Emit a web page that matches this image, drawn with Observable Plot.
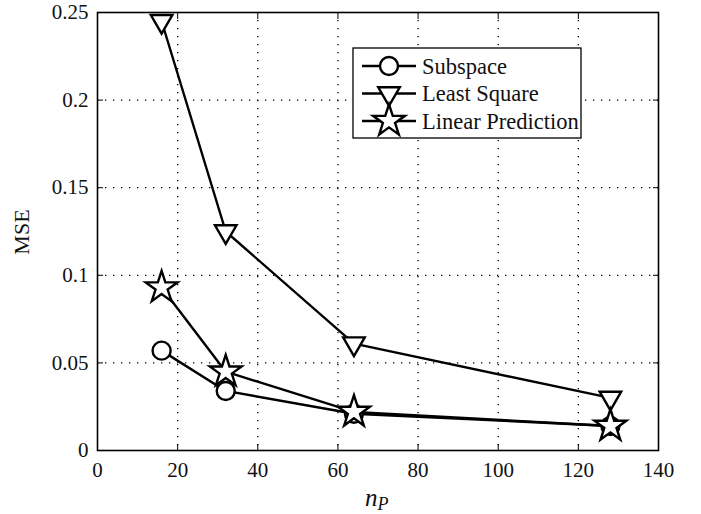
<!DOCTYPE html>
<html>
<head>
<meta charset="utf-8">
<script src="https://cdn.jsdelivr.net/npm/d3@7"></script>
<script src="https://cdn.jsdelivr.net/npm/@observablehq/plot@0.6"></script>
<style>
  html, body { margin: 0; padding: 0; background: #fff; }
  #chart svg { display: block; }
</style>
</head>
<body>
<div id="chart"></div>
<script>
// ---- data ----
const nP = [16, 32, 64, 128];
const seriesNames = ["Subspace", "Least Square", "Linear Prediction"];
const subspace = [0.057, 0.034, 0.021, 0.014];
const leastSquare = [0.245, 0.125, 0.061, 0.030];
const linearPrediction = [0.093, 0.045, 0.022, 0.014];
const xTicks = [0, 20, 40, 60, 80, 100, 120, 140];
const yTicks = [0, 0.05, 0.1, 0.15, 0.2, 0.25];
const yTickLabels = ["0", "0.05", "0.1", "0.15", "0.2", "0.25"];

const toRows = (vals, name) => nP.map((x, i) => ({x, y: vals[i], series: name}));
const sRows = toRows(subspace, seriesNames[0]);
const lsRows = toRows(leastSquare, seriesNames[1]);
const lpRows = toRows(linearPrediction, seriesNames[2]);
const allRows = [...sRows, ...lsRows, ...lpRows];

const FONT = "'Liberation Serif', 'Times New Roman', serif";
const ink = "#111";

const chart = Plot.plot({
  width: 701,
  height: 514,
  marginLeft: 97,
  marginRight: 43,
  marginTop: 12,
  marginBottom: 64,
  style: {fontFamily: FONT, fontSize: "21px", color: ink, background: "#fff"},
  x: {domain: [0, 140], label: null},
  y: {domain: [0, 0.25], label: null},
  marks: [
    Plot.gridX(xTicks.slice(1, -1), {stroke: "#000", strokeOpacity: 1, strokeWidth: 1.3, strokeDasharray: "1.3,6.7"}),
    Plot.gridY(yTicks.slice(1, -1), {stroke: "#000", strokeOpacity: 1, strokeWidth: 1.3, strokeDasharray: "1.3,6.7"}),
    Plot.axisX({anchor: "bottom", ticks: xTicks, tickSize: 0, tickPadding: 12, tickFormat: d => String(d), fontSize: 21, fill: ink}),
    Plot.axisY({anchor: "left", ticks: yTicks, tickSize: 0, tickPadding: 9, tickFormat: d => yTickLabels[yTicks.indexOf(d)], fontSize: 21, fill: ink}),
    Plot.axisX({anchor: "bottom", ticks: xTicks, tickSize: -6, text: null, stroke: "#000"}),
    Plot.axisX({anchor: "top", ticks: xTicks, tickSize: -6, text: null, stroke: "#000"}),
    Plot.axisY({anchor: "left", ticks: yTicks, tickSize: -6, text: null, stroke: "#000"}),
    Plot.axisY({anchor: "right", ticks: yTicks, tickSize: -6, text: null, stroke: "#000"}),
    Plot.frame({stroke: "#000", strokeWidth: 1.6}),
    Plot.line(allRows, {x: "x", y: "y", z: "series", stroke: "#000", strokeWidth: 2.4}),
    Plot.dot(sRows, {x: "x", y: "y", symbol: "circle", r: 9, fill: "#fff", stroke: "#000", strokeWidth: 2.4}),
    Plot.dot(lsRows, {x: "x", y: "y", symbol: "triangle", rotate: 180, r: 8, fill: "#fff", stroke: "#000", strokeWidth: 2.4}),
    Plot.dot(lpRows, {x: "x", y: "y", symbol: "star", r: 10, fill: "#fff", stroke: "#000", strokeWidth: 2.4})
  ]
});

const svg = d3.select(chart);

// axis titles
svg.append("text")
  .attr("transform", "translate(29,232) rotate(-90)")
  .attr("text-anchor", "middle")
  .attr("font-family", FONT)
  .attr("font-size", 22)
  .attr("fill", ink)
  .text("MSE");

const xl = svg.append("text")
  .attr("x", 365).attr("y", 506)
  .attr("text-anchor", "start")
  .attr("font-family", FONT)
  .attr("font-size", 25)
  .attr("font-style", "italic")
  .attr("fill", ink);
xl.append("tspan").text("n");
xl.append("tspan").attr("dy", 4).attr("font-size", 18).text("P");

// legend
const lg = svg.append("g").attr("font-family", FONT).attr("font-size", 22.5).attr("fill", ink)
  .attr("text-anchor", "start");
lg.append("rect").attr("x", 353).attr("y", 48).attr("width", 228).attr("height", 90)
  .attr("fill", "#fff").attr("stroke", "#000").attr("stroke-width", 1.3);
const symDefs = [
  {sym: d3.symbolCircle, r: 9, rot: 0},
  {sym: d3.symbolTriangle, r: 8, rot: 180},
  {sym: d3.symbolStar, r: 10, rot: 0}
];
seriesNames.forEach((name, i) => {
  const cy = 66 + i * 27.5;
  lg.append("line").attr("x1", 362).attr("x2", 416).attr("y1", cy).attr("y2", cy)
    .attr("stroke", "#000").attr("stroke-width", 2.4);
  lg.append("path")
    .attr("d", d3.symbol(symDefs[i].sym, Math.PI * symDefs[i].r * symDefs[i].r)())
    .attr("transform", `translate(389,${cy}) rotate(${symDefs[i].rot})`)
    .attr("fill", "#fff").attr("stroke", "#000").attr("stroke-width", 2.4);
  lg.append("text").attr("x", 422).attr("y", cy).attr("dy", "0.35em")
    .attr("text-anchor", "start").text(name);
});

document.getElementById("chart").appendChild(chart);
</script>
</body>
</html>
